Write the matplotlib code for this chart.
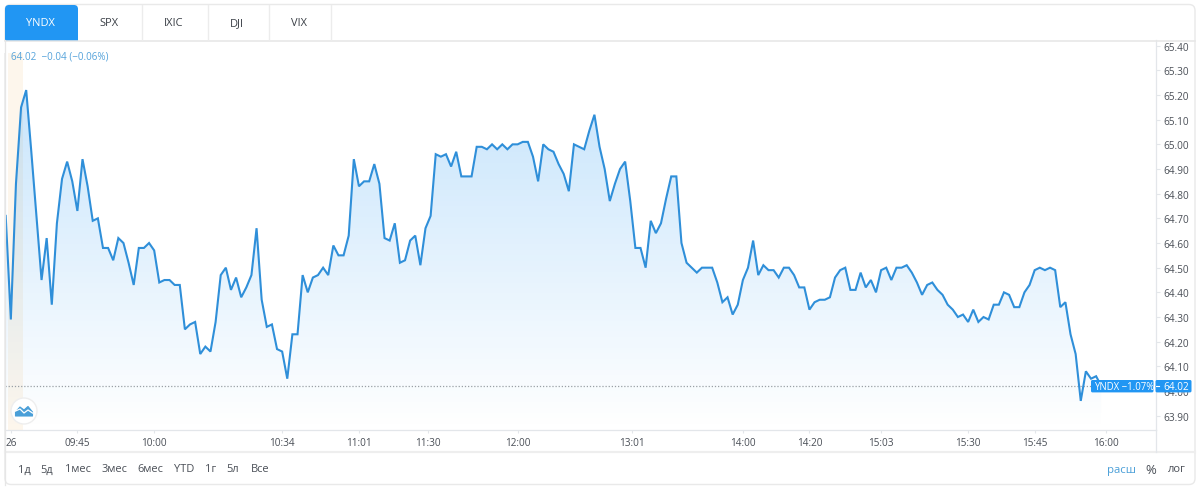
import numpy as np
import matplotlib
matplotlib.use("Agg")
import matplotlib.pyplot as plt
from matplotlib.patches import FancyBboxPatch, Rectangle, Circle, Polygon, PathPatch
from matplotlib.colors import LinearSegmentedColormap

plt.rcParams['font.family'] = ['Open Sans', 'DejaVu Sans']

prices = [
 64.71,64.29,64.84,65.15,65.22,64.97,64.71,64.45,64.62,64.35,64.68,64.86,64.93,64.85,64.73,64.94,64.83,64.69,64.70,64.58,
 64.58,64.53,64.62,64.60,64.52,64.43,64.58,64.58,64.60,64.57,64.44,64.45,64.45,64.43,64.43,64.25,64.27,64.28,64.15,64.18,
 64.16,64.28,64.47,64.50,64.41,64.46,64.38,64.42,64.47,64.66,64.37,64.26,64.27,64.17,64.16,64.05,64.23,64.23,64.47,64.40,
 64.46,64.47,64.50,64.47,64.59,64.55,64.55,64.63,64.94,64.83,64.85,64.85,64.92,64.84,64.62,64.61,64.68,64.52,64.53,64.61,
 64.63,64.51,64.66,64.71,64.96,64.95,64.96,64.91,64.97,64.87,64.87,64.87,64.99,64.99,64.98,65.00,64.98,65.00,64.98,65.00,
 65.00,65.01,65.01,64.95,64.85,65.00,64.98,64.97,64.92,64.88,64.81,65.00,64.99,64.98,65.055,65.12,64.99,64.90,64.77,64.84,
 64.90,64.93,64.77,64.58,64.58,64.50,64.69,64.64,64.68,64.78,64.87,64.87,64.60,64.52,64.50,64.48,64.50,64.50,64.50,64.44,
 64.36,64.38,64.31,64.35,64.45,64.50,64.61,64.47,64.51,64.49,64.49,64.46,64.50,64.50,64.47,64.42,64.42,64.33,64.36,64.37,
 64.37,64.38,64.46,64.49,64.50,64.41,64.41,64.48,64.42,64.45,64.40,64.49,64.50,64.45,64.50,64.50,64.51,64.48,64.44,64.39,
 64.43,64.44,64.41,64.39,64.35,64.33,64.30,64.31,64.28,64.33,64.28,64.30,64.29,64.35,64.35,64.40,64.39,64.34,64.34,64.40,
 64.43,64.49,64.50,64.49,64.50,64.49,64.34,64.36,64.23,64.15,63.96,64.08,64.05,64.06,64.02,
]
time_ticks = [1, 14, 29, 54, 69, 82.5, 100, 122.3, 144, 157, 171, 188, 201, 215]
time_labels = ['26','09:45','10:00','10:34','11:01','11:30','12:00','13:01','14:00','14:20','15:03','15:30','15:45','16:00']
price_ticks = [63.9,64.0,64.1,64.2,64.3,64.4,64.5,64.6,64.7,64.8,64.9,65.0,65.1,65.2,65.3,65.4]
tabs = ['YNDX','SPX','IXIC','DJI','VIX']
tab_centers = [40,109,174,237,299]
ranges = ['1д','5д','1мес','3мес','6мес','YTD','1г','5л','Все']
range_centers = [24,47,77.5,114,150,184.5,211,233,260]

W, H = 1200, 489
LINE = '#2f8fd9'
BLUE = '#2196f3'
GRID = '#e3e6ea'
TEXT = '#4a4f57'

fig = plt.figure(figsize=(12, 4.89), dpi=100, facecolor='white')
L, R, T, B = 5, 1155.5, 41, 431
ax = fig.add_axes([L/W, 1-B/H, (R-L)/W, (B-T)/H])
x = np.arange(len(prices))
xlim = (-0.14, 224.6)
ylim = (63.842, 65.423)
ax.set_xlim(*xlim)
ax.set_ylim(*ylim)

# session highlight
ax.axvspan(0.45, 3.3, color='#fdf6ec', lw=0, zorder=0)

# gradient area
poly = ax.fill_between(x, prices, 63.0, color='none', lw=0)
cmap = LinearSegmentedColormap.from_list('g', [(0.129,0.588,0.953,0.0),(0.129,0.588,0.953,0.25)])
grad = np.linspace(1, 0, 256).reshape(-1, 1)
im = ax.imshow(grad, cmap=cmap, vmin=0, vmax=1, aspect='auto',
               extent=[xlim[0], xlim[1], ylim[0], 65.25],
               zorder=1, interpolation='bilinear')
ax.set_xlim(*xlim)
ax.set_ylim(*ylim)
im.set_clip_path(PathPatch(poly.get_paths()[0], transform=ax.transData))

ax.plot(x, prices, color=LINE, lw=1.5, zorder=3, solid_joinstyle='miter')
ax.axhline(prices[-1], color='#9aa0a6', lw=0.9, ls=(0, (1, 1.5)), zorder=2)

ax.yaxis.tick_right()
ax.set_yticks(price_ticks)
ax.set_yticklabels([f'{v:.2f}' for v in price_ticks])
ax.set_xticks(time_ticks)
ax.set_xticklabels(time_labels)
ax.tick_params(axis='y', length=2.9, width=0.8, color=GRID, labelsize=7.2, labelcolor=TEXT, pad=2.6)
ax.tick_params(axis='x', length=2.2, width=0.8, color=GRID, labelsize=7.2, labelcolor=TEXT, pad=3.2)
for s in ['top', 'left']:
    ax.spines[s].set_visible(False)
for s in ['right', 'bottom']:
    ax.spines[s].set_color(GRID)
    ax.spines[s].set_linewidth(0.9)
ax.patch.set_alpha(0)

# page chrome in pixel coordinates
ov = fig.add_axes([0, 0, 1, 1], zorder=5)
ov.set_xlim(0, W); ov.set_ylim(H, 0); ov.axis('off')
ov.add_patch(FancyBboxPatch((5, 5.5), 1190, 480, boxstyle='round,pad=0,rounding_size=6',
                            fc='none', ec='#e9e9e9', lw=1.0))
ov.add_patch(FancyBboxPatch((5, 6), 73, 45, boxstyle='round,pad=0,rounding_size=4', fc=BLUE, ec='none'))
ov.add_patch(Rectangle((4, 41.5), 80, 12, fc='white', ec='none'))
ov.plot([5, 1195], [41.5, 41.5], color='#e6e6e6', lw=1.1)
ov.plot([5, 1195], [453, 453], color='#eeeeee', lw=1.6)
ov.plot([5, 5], [41, 486], color='#e6e6e6', lw=0.9)
ov.plot([1155.5, 1155.5], [431, 453], color=GRID, lw=0.9)
for xd in [142, 207.5, 269, 331]:
    ov.plot([xd, xd], [6, 41], color='#ececec', lw=1.0)
for i, (t, xc) in enumerate(zip(tabs, tab_centers)):
    ov.text(xc, 23.5, t, ha='center', va='center', fontsize=7.9,
            color='white' if i == 0 else '#3a3f46')
for t, xc in zip(ranges, range_centers):
    ov.text(xc, 470, t, ha='center', va='center', fontsize=7.9, color=TEXT)
ov.text(1122, 470, 'расш', ha='center', va='center', fontsize=8.2, color='#4a9fd8')
ov.text(1151, 470, '%', ha='center', va='center', fontsize=9.4, color=TEXT)
ov.text(1177, 470, 'лог', ha='center', va='center', fontsize=8.0, color=TEXT)
ov.text(11, 57, '64.02  −0.04 (−0.06%)', ha='left', va='center', fontsize=7.1, color='#55a3db')

# last-price label
ov.add_patch(FancyBboxPatch((1091, 381), 62.5, 12.4, boxstyle='round,pad=0,rounding_size=1.5', fc=BLUE, ec='none'))
ov.add_patch(FancyBboxPatch((1155.5, 381), 36, 12.4, boxstyle='round,pad=0,rounding_size=1.5', fc=BLUE, ec='none'))
ov.plot([1155.5, 1159], [387.2, 387.2], color='white', lw=0.8)
ov.text(1094.5, 387.2, 'YNDX −1.07%', ha='left', va='center', fontsize=6.9, color='white')
ov.text(1163, 387.2, '64.02', ha='left', va='center', fontsize=7.2, color='white')

# logo button
ov.add_patch(Circle((24, 412), 13, fc='white', ec='#eeeeee', lw=1.0))
ov.add_patch(Polygon([(15.5, 417), (15.5, 413), (20, 408), (24, 411), (28, 407.5), (32.5, 413), (32.5, 417)],
                     closed=True, fc='#4a9fd8', ec='#4a9fd8', lw=0.8, joinstyle='round'))
ov.plot([15.5, 20, 24, 28, 32.5], [412, 410, 414, 411, 414], color='white', lw=0.9)

fig.savefig('out.png', dpi=100, facecolor='white')
